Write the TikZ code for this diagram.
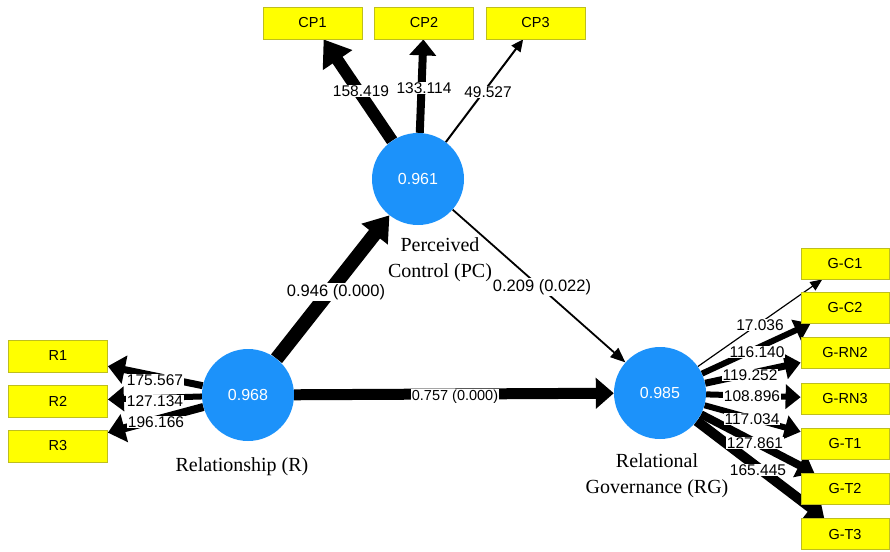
\documentclass[tikz,border=0pt]{standalone}
\usepackage{fontspec}
\setmainfont{Liberation Serif}
\newfontfamily\arialfont{Liberation Sans}
\usetikzlibrary{arrows.meta,calc}
\definecolor{lvblue}{RGB}{28,146,250}
\definecolor{indyellow}{RGB}{255,255,0}
\definecolor{indborder}{RGB}{190,190,30}
\pgfdeclarelayer{edges}
\pgfsetlayers{edges,main}
\tikzset{
  latent/.style={circle, fill=lvblue, minimum size=92pt, inner sep=0pt,
    text=white, font=\arialfont\fontsize{16}{18}\selectfont},
  indicator/.style={rectangle, fill=indyellow, draw=indborder, line width=0.8pt,
    minimum width=99pt, minimum height=32pt, inner sep=0pt,
    font=\arialfont\fontsize{14.5}{16}\selectfont},
  rindicator/.style={indicator, minimum width=88pt, minimum height=31pt},
  lvname/.style={align=center, inner sep=0pt, font=\fontsize{20}{26}\selectfont},
  coef/.style={fill=white, inner sep=1pt, font=\arialfont\fontsize{15.5}{17}\selectfont},
  pathcoef/.style={coef, font=\arialfont\fontsize{16.5}{18}\selectfont},
  arr/.style n args={3}{line width=#1pt, -{Triangle[length=#2pt, width=#3pt]}},
}
\begin{document}
\begin{tikzpicture}[x=1pt, y=-1pt]
\useasboundingbox (0,0) rectangle (890,551);

% latent variables
\node[latent] (pc) at (418,179) {0.961};
\node[latent] (r)  at (248,395) {0.968};
\node[latent] (rg) at (660,393) {0.985};

% latent variable names
\node[lvname] (pcname) at (440,260) {Perceived\\Control (PC)};
\node[lvname] (rname)  at (242,467) {Relationship (R)};
\node[lvname] (rgname) at (657,476) {Relational\\Governance (RG)};

% indicators of PC
\node[indicator] (cp1) at (312.5,23) {CP1};
\node[indicator] (cp2) at (424,23) {CP2};
\node[indicator] (cp3) at (535.5,23) {CP3};

% indicators of R
\node[indicator] (r1) at (58,356) {R1};
\node[indicator] (r2) at (58,401) {R2};
\node[indicator] (r3) at (58,446) {R3};

% indicators of RG
\node[rindicator] (gc1)  at (845,263.5) {G-C1};
\node[rindicator] (gc2)  at (845,307.5) {G-C2};
\node[rindicator] (grn2) at (845,353) {G-RN2};
\node[rindicator] (grn3) at (845,398.5) {G-RN3};
\node[rindicator] (gt1)  at (845,444) {G-T1};
\node[rindicator] (gt2)  at (845,489) {G-T2};
\node[rindicator] (gt3)  at (845,534) {G-T3};

\begin{pgfonlayer}{edges}
  % structural paths
  \draw[arr={14}{24}{32}] (r) -- (pc);
  \draw[arr={11}{18}{30}] (r) -- (rg);
  \draw[arr={1.8}{15}{12}] (pc) -- (rg);
  % loadings of PC
  \draw[arr={12}{25}{34}] (pc) -- (cp1);
  \draw[arr={8}{16}{26}] (pc) -- (cp2);
  \draw[arr={2}{12}{11}] (pc) -- (cp3);
  % loadings of R
  \draw[arr={7}{17}{28}] (r) -- (r1);
  \draw[arr={6}{16}{24}] (r) -- (r2);
  \draw[arr={8}{17}{28}] (r) -- (r3);
  % loadings of RG
  \draw[arr={1.2}{12}{10}] (rg) -- (gc1);
  \draw[arr={6}{16}{22}] (rg) -- (gc2);
  \draw[arr={7}{16}{26}] (rg) -- (grn2);
  \draw[arr={6}{15}{24}] (rg) -- (grn3);
  \draw[arr={6}{16}{24}] (rg) -- (gt1);
  \draw[arr={8}{17}{26}] (rg) -- (gt2);
  \draw[arr={10}{17}{28}] (rg) -- (gt3);
\end{pgfonlayer}

% path coefficients (p values)
\node[pathcoef] (c-r-pc)  at (336,292) {0.946 (0.000)};
\node[pathcoef] (c-pc-rg) at (542,287) {0.209 (0.022)};
\node[coef, font=\arialfont\fontsize{14.5}{16}\selectfont] (c-r-rg) at (455,397) {0.757 (0.000)};

% outer loading t values
\node[coef] (l-cp1) at (361,91) {158.419};
\node[coef] (l-cp2) at (424,88) {133.114};
\node[coef] (l-cp3) at (488,92) {49.527};
\node[coef] (l-r1) at (155,380) {175.567};
\node[coef] (l-r2) at (155,401) {127.134};
\node[coef] (l-r3) at (156,422) {196.166};
\node[coef] (l-gc1)  at (760,325) {17.036};
\node[coef] (l-gc2)  at (757,352) {116.140};
\node[coef] (l-grn2) at (750,375) {119.252};
\node[coef] (l-grn3) at (752,396) {108.896};
\node[coef] (l-gt1)  at (752,419) {117.034};
\node[coef] (l-gt2)  at (755,443) {127.861};
\node[coef] (l-gt3)  at (758,470) {165.445};
\end{tikzpicture}
\end{document}
